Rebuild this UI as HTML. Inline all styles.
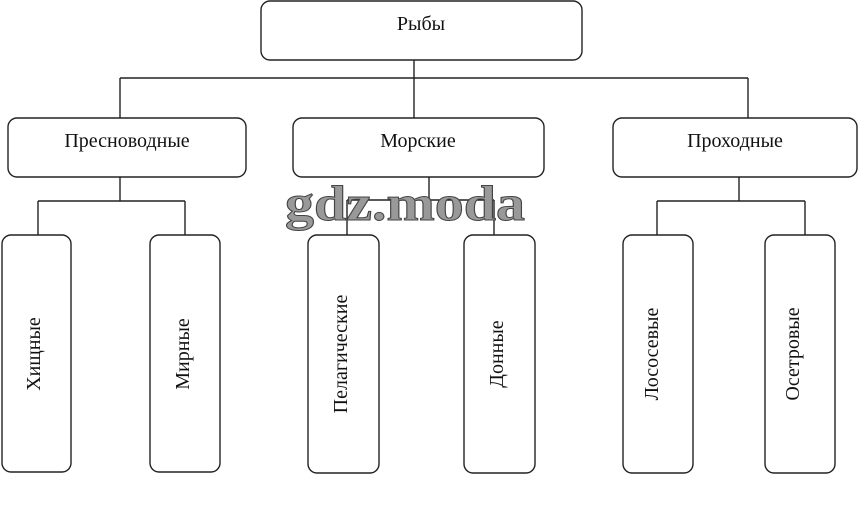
<!DOCTYPE html>
<html><head><meta charset="utf-8"><style>
html,body{margin:0;padding:0;background:#fff;width:859px;height:509px;overflow:hidden}
svg{display:block}
text{font-family:"Liberation Serif",serif;font-size:20px;fill:#111}
</style></head><body>
<svg width="859" height="509" viewBox="0 0 859 509">
<g fill="none" stroke="#222" stroke-width="1.4">
<rect x="261" y="1" width="321" height="59" rx="9"/>
<path d="M414 60V78M120 78H748M120 78V118M414 78V118M748 78V118"/>
<rect x="8" y="118" width="238" height="59" rx="9"/>
<rect x="293" y="118" width="251" height="59" rx="9"/>
<rect x="613" y="118" width="244" height="59" rx="9"/>
<path d="M120 177V201M38 201H185M38 201V235M185 201V235"/>
<path d="M429 177V200M347 200H494M347 200V235M494 200V235"/>
<path d="M739 177V201M657 201H805M657 201V235M805 201V235"/>
<rect x="2" y="235" width="69" height="237" rx="9"/>
<rect x="150" y="235" width="70" height="237" rx="9"/>
<rect x="308" y="235" width="71" height="238" rx="9"/>
<rect x="464" y="235" width="71" height="238" rx="9"/>
<rect x="623" y="235" width="70" height="238" rx="9"/>
<rect x="765" y="235" width="70" height="238" rx="9"/>
</g>
<text x="421" y="30" text-anchor="middle">Рыбы</text>
<text x="127" y="147" text-anchor="middle">Пресноводные</text>
<text x="418" y="147" text-anchor="middle">Морские</text>
<text x="735" y="147" text-anchor="middle">Проходные</text>
<text transform="translate(40,354) rotate(-90)" text-anchor="middle">Хищные</text>
<text transform="translate(189,354) rotate(-90)" text-anchor="middle">Мирные</text>
<text transform="translate(347,354) rotate(-90)" text-anchor="middle">Пелагические</text>
<text transform="translate(503,354) rotate(-90)" text-anchor="middle">Донные</text>
<text transform="translate(658,354) rotate(-90)" text-anchor="middle">Лососевые</text>
<text transform="translate(799,354) rotate(-90)" text-anchor="middle">Осетровые</text>
<text x="285" y="220" textLength="240" lengthAdjust="spacingAndGlyphs" style="font-size:50px;font-weight:bold;fill:#999;stroke:#444;stroke-width:1">gdz.moda</text>
</svg>
</body></html>
